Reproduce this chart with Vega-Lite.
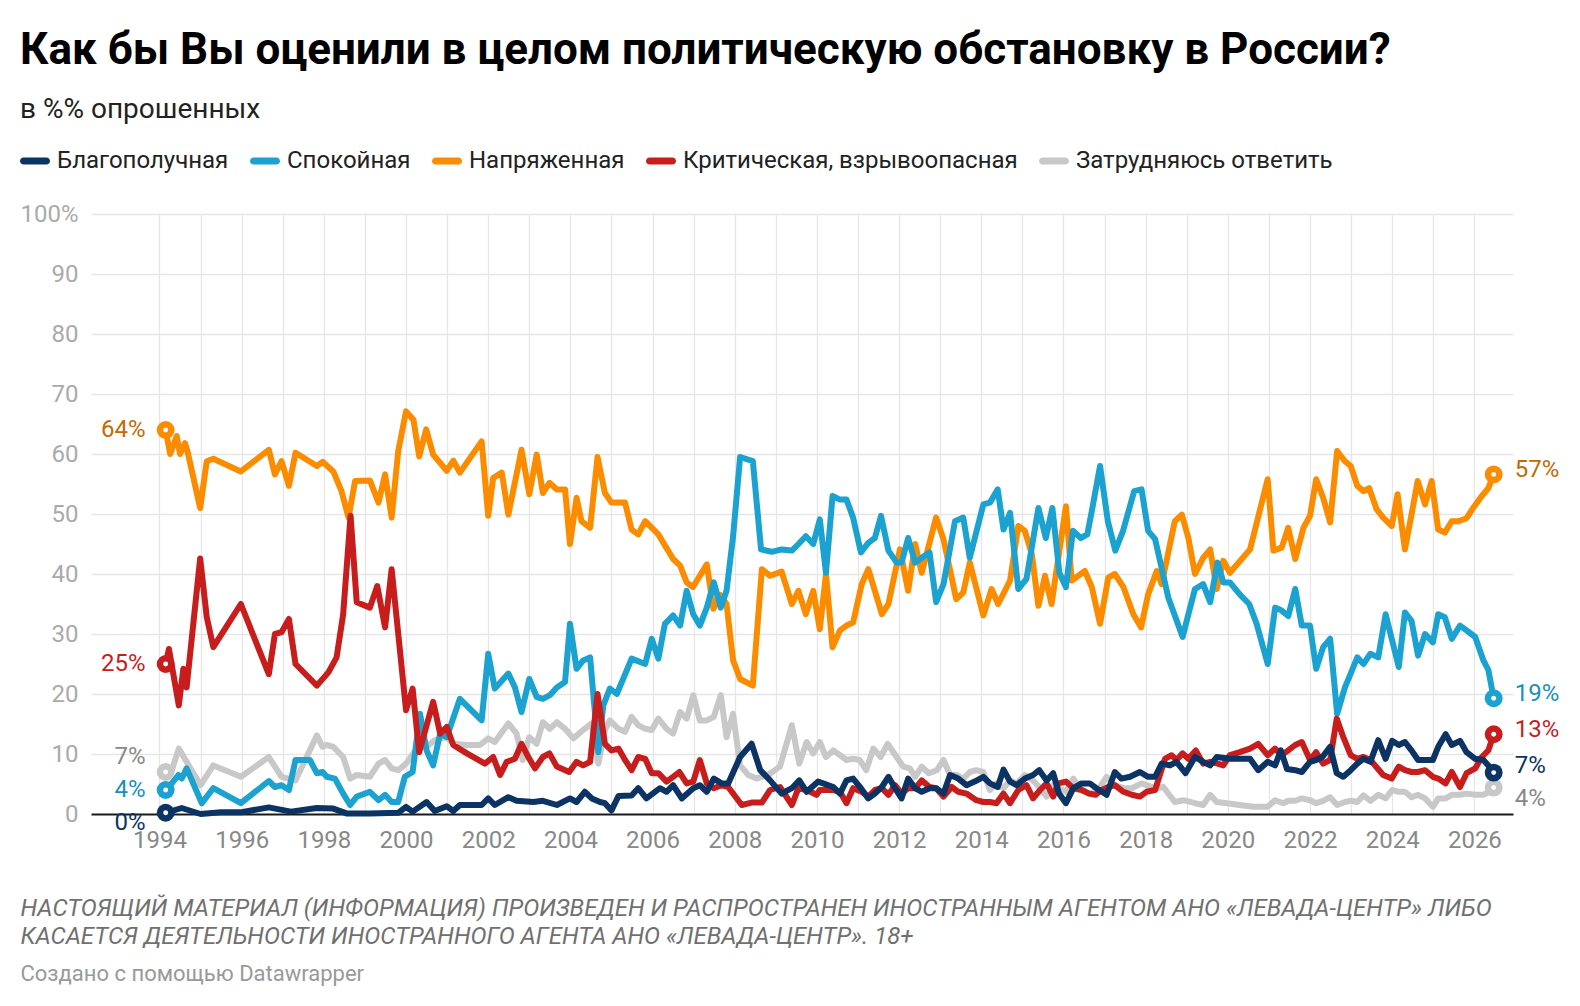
{
  "$schema": "https://vega.github.io/schema/vega-lite/v6.json",
  "width": 1422,
  "height": 600,
  "autosize": "none",
  "padding": {"left": 91, "top": 214, "right": 67, "bottom": 192},
  "background": "white",
  "title": {
    "text": "Как бы Вы оценили в целом политическую обстановку в России?",
    "subtitle": "в %% опрошенных",
    "anchor": "start",
    "frame": "group",
    "dx": -71,
    "offset": 22.5,
    "font": "Roboto",
    "fontSize": 44,
    "fontWeight": "bold",
    "color": "#000000",
    "subtitleFont": "Roboto",
    "subtitleFontSize": 28,
    "subtitleColor": "#222222",
    "subtitlePadding": 23
  },
  "data": {
    "values": [
      {"s":"g","t":1994.15,"v":7},{"s":"g","t":1994.3,"v":7.3},{"s":"g","t":1994.47,"v":10.9},{"s":"g","t":1994.66,"v":8.7},{"s":"g","t":1995.0,"v":4.8},{"s":"g","t":1995.31,"v":8.1},{"s":"g","t":1995.98,"v":6.2},{"s":"g","t":1996.66,"v":9.5},{"s":"g","t":1996.97,"v":6.2},{"s":"g","t":1997.31,"v":5.6},{"s":"g","t":1997.83,"v":13.1},{"s":"g","t":1997.97,"v":11.2},{"s":"g","t":1998.07,"v":11.5},{"s":"g","t":1998.23,"v":11.2},{"s":"g","t":1998.47,"v":9.5},{"s":"g","t":1998.64,"v":5.9},{"s":"g","t":1998.8,"v":6.5},{"s":"g","t":1999.12,"v":6.2},{"s":"g","t":1999.33,"v":8.4},{"s":"g","t":1999.49,"v":9},{"s":"g","t":1999.65,"v":7.6},{"s":"g","t":1999.81,"v":7.3},{"s":"g","t":2000.0,"v":8.4},{"s":"g","t":2000.18,"v":10.1},{"s":"g","t":2000.34,"v":11.7},{"s":"g","t":2000.5,"v":11.2},{"s":"g","t":2000.7,"v":12.3},{"s":"g","t":2000.99,"v":12.8},{"s":"g","t":2001.15,"v":11.7},{"s":"g","t":2001.48,"v":11.5},{"s":"g","t":2001.8,"v":11.5},{"s":"g","t":2002.0,"v":12.6},{"s":"g","t":2002.16,"v":12},{"s":"g","t":2002.49,"v":15.1},{"s":"g","t":2002.69,"v":13.4},{"s":"g","t":2002.84,"v":9},{"s":"g","t":2003.0,"v":12.8},{"s":"g","t":2003.18,"v":11.7},{"s":"g","t":2003.33,"v":15.3},{"s":"g","t":2003.5,"v":14.2},{"s":"g","t":2003.67,"v":15.3},{"s":"g","t":2003.87,"v":14.2},{"s":"g","t":2004.07,"v":12.6},{"s":"g","t":2004.31,"v":14},{"s":"g","t":2004.52,"v":15.1},{"s":"g","t":2004.68,"v":8.4},{"s":"g","t":2004.84,"v":14},{"s":"g","t":2004.96,"v":15.6},{"s":"g","t":2005.17,"v":14.2},{"s":"g","t":2005.33,"v":13.7},{"s":"g","t":2005.49,"v":16.2},{"s":"g","t":2005.65,"v":14.8},{"s":"g","t":2005.82,"v":14.2},{"s":"g","t":2005.98,"v":14},{"s":"g","t":2006.14,"v":15.9},{"s":"g","t":2006.34,"v":14.2},{"s":"g","t":2006.5,"v":13.4},{"s":"g","t":2006.67,"v":17},{"s":"g","t":2006.83,"v":15.9},{"s":"g","t":2006.99,"v":19.8},{"s":"g","t":2007.15,"v":15.6},{"s":"g","t":2007.32,"v":15.6},{"s":"g","t":2007.49,"v":16.2},{"s":"g","t":2007.66,"v":19.8},{"s":"g","t":2007.8,"v":12.8},{"s":"g","t":2007.96,"v":16.7},{"s":"g","t":2008.13,"v":8.1},{"s":"g","t":2008.33,"v":6.5},{"s":"g","t":2008.53,"v":5.9},{"s":"g","t":2008.81,"v":6.5},{"s":"g","t":2009.1,"v":7.9},{"s":"g","t":2009.39,"v":14.8},{"s":"g","t":2009.57,"v":8.4},{"s":"g","t":2009.75,"v":12},{"s":"g","t":2009.91,"v":10.1},{"s":"g","t":2010.07,"v":12},{"s":"g","t":2010.22,"v":9.5},{"s":"g","t":2010.4,"v":10.6},{"s":"g","t":2010.72,"v":9},{"s":"g","t":2010.88,"v":9.2},{"s":"g","t":2011.04,"v":9},{"s":"g","t":2011.2,"v":7.3},{"s":"g","t":2011.37,"v":10.9},{"s":"g","t":2011.55,"v":9.5},{"s":"g","t":2011.72,"v":11.7},{"s":"g","t":2011.94,"v":9.5},{"s":"g","t":2012.1,"v":7.9},{"s":"g","t":2012.26,"v":7.6},{"s":"g","t":2012.39,"v":6.2},{"s":"g","t":2012.55,"v":7.9},{"s":"g","t":2012.72,"v":6.8},{"s":"g","t":2012.92,"v":7.3},{"s":"g","t":2013.08,"v":9},{"s":"g","t":2013.24,"v":6.5},{"s":"g","t":2013.4,"v":6.5},{"s":"g","t":2013.56,"v":5.9},{"s":"g","t":2013.72,"v":7},{"s":"g","t":2013.88,"v":7.3},{"s":"g","t":2014.05,"v":7},{"s":"g","t":2014.21,"v":4},{"s":"g","t":2014.37,"v":5.1},{"s":"g","t":2014.54,"v":4.3},{"s":"g","t":2014.7,"v":5.6},{"s":"g","t":2014.86,"v":5.1},{"s":"g","t":2015.06,"v":6.5},{"s":"g","t":2015.26,"v":5.6},{"s":"g","t":2015.43,"v":4.3},{"s":"g","t":2015.59,"v":2.9},{"s":"g","t":2015.75,"v":4.8},{"s":"g","t":2015.87,"v":4.3},{"s":"g","t":2016.06,"v":3.7},{"s":"g","t":2016.24,"v":5.9},{"s":"g","t":2016.4,"v":4.3},{"s":"g","t":2016.64,"v":3.4},{"s":"g","t":2016.84,"v":4},{"s":"g","t":2017.05,"v":6.2},{"s":"g","t":2017.25,"v":4.8},{"s":"g","t":2017.46,"v":4.3},{"s":"g","t":2017.66,"v":4.3},{"s":"g","t":2017.9,"v":5.1},{"s":"g","t":2018.23,"v":4.3},{"s":"g","t":2018.43,"v":4.5},{"s":"g","t":2018.71,"v":2},{"s":"g","t":2018.92,"v":2.3},{"s":"g","t":2019.2,"v":1.8},{"s":"g","t":2019.4,"v":1.5},{"s":"g","t":2019.57,"v":3.2},{"s":"g","t":2019.73,"v":2},{"s":"g","t":2019.97,"v":1.8},{"s":"g","t":2020.29,"v":1.5},{"s":"g","t":2020.62,"v":1.2},{"s":"g","t":2020.97,"v":1.2},{"s":"g","t":2021.15,"v":2.3},{"s":"g","t":2021.35,"v":1.8},{"s":"g","t":2021.47,"v":2.2},{"s":"g","t":2021.64,"v":2.2},{"s":"g","t":2021.8,"v":2.6},{"s":"g","t":2022.0,"v":2.3},{"s":"g","t":2022.15,"v":1.8},{"s":"g","t":2022.32,"v":2.2},{"s":"g","t":2022.49,"v":2.8},{"s":"g","t":2022.66,"v":1.5},{"s":"g","t":2022.85,"v":2},{"s":"g","t":2023.0,"v":2.2},{"s":"g","t":2023.15,"v":2},{"s":"g","t":2023.3,"v":3.1},{"s":"g","t":2023.47,"v":2.2},{"s":"g","t":2023.66,"v":3.2},{"s":"g","t":2023.84,"v":2.6},{"s":"g","t":2024.0,"v":4},{"s":"g","t":2024.16,"v":3.7},{"s":"g","t":2024.31,"v":3.7},{"s":"g","t":2024.47,"v":2.8},{"s":"g","t":2024.63,"v":3.2},{"s":"g","t":2024.8,"v":2.6},{"s":"g","t":2024.99,"v":1.2},{"s":"g","t":2025.12,"v":2.6},{"s":"g","t":2025.3,"v":2.6},{"s":"g","t":2025.45,"v":3.2},{"s":"g","t":2025.65,"v":3.2},{"s":"g","t":2025.81,"v":3.4},{"s":"g","t":2026.02,"v":3.2},{"s":"g","t":2026.22,"v":3.2},{"s":"g","t":2026.34,"v":3.6},{"s":"g","t":2026.47,"v":4.4},
      {"s":"o","t":1994.15,"v":64},{"s":"o","t":1994.26,"v":60},{"s":"o","t":1994.42,"v":63},{"s":"o","t":1994.5,"v":60},{"s":"o","t":1994.62,"v":61.8},{"s":"o","t":1994.68,"v":60.5},{"s":"o","t":1994.99,"v":51},{"s":"o","t":1995.15,"v":58.8},{"s":"o","t":1995.31,"v":59.2},{"s":"o","t":1995.98,"v":57.1},{"s":"o","t":1996.66,"v":60.7},{"s":"o","t":1996.81,"v":56.6},{"s":"o","t":1996.97,"v":58.8},{"s":"o","t":1997.15,"v":54.7},{"s":"o","t":1997.31,"v":60.2},{"s":"o","t":1997.83,"v":58},{"s":"o","t":1997.97,"v":58.7},{"s":"o","t":1998.23,"v":57.1},{"s":"o","t":1998.43,"v":53.8},{"s":"o","t":1998.6,"v":49.4},{"s":"o","t":1998.76,"v":55.5},{"s":"o","t":1999.12,"v":55.6},{"s":"o","t":1999.33,"v":51.9},{"s":"o","t":1999.49,"v":56.6},{"s":"o","t":1999.65,"v":49.4},{"s":"o","t":1999.81,"v":60.5},{"s":"o","t":2000.0,"v":67.1},{"s":"o","t":2000.18,"v":65.7},{"s":"o","t":2000.32,"v":59.6},{"s":"o","t":2000.49,"v":64.1},{"s":"o","t":2000.66,"v":59.9},{"s":"o","t":2000.99,"v":57.2},{"s":"o","t":2001.15,"v":58.9},{"s":"o","t":2001.31,"v":56.9},{"s":"o","t":2001.84,"v":62.1},{"s":"o","t":2002.0,"v":49.7},{"s":"o","t":2002.12,"v":56},{"s":"o","t":2002.33,"v":56.9},{"s":"o","t":2002.49,"v":49.9},{"s":"o","t":2002.81,"v":60.7},{"s":"o","t":2003.0,"v":53.3},{"s":"o","t":2003.18,"v":59.9},{"s":"o","t":2003.33,"v":53.5},{"s":"o","t":2003.49,"v":55.2},{"s":"o","t":2003.67,"v":54.1},{"s":"o","t":2003.87,"v":54.1},{"s":"o","t":2003.99,"v":45},{"s":"o","t":2004.15,"v":52.7},{"s":"o","t":2004.27,"v":48.8},{"s":"o","t":2004.48,"v":47.7},{"s":"o","t":2004.66,"v":59.5},{"s":"o","t":2004.84,"v":53.5},{"s":"o","t":2005.0,"v":51.9},{"s":"o","t":2005.33,"v":51.9},{"s":"o","t":2005.49,"v":47.4},{"s":"o","t":2005.65,"v":46.6},{"s":"o","t":2005.82,"v":48.8},{"s":"o","t":2006.14,"v":46.6},{"s":"o","t":2006.5,"v":42.5},{"s":"o","t":2006.67,"v":41.4},{"s":"o","t":2006.83,"v":38.6},{"s":"o","t":2006.98,"v":37.8},{"s":"o","t":2007.32,"v":41.6},{"s":"o","t":2007.48,"v":34.2},{"s":"o","t":2007.65,"v":36.5},{"s":"o","t":2007.8,"v":35},{"s":"o","t":2007.96,"v":25.6},{"s":"o","t":2008.13,"v":22.5},{"s":"o","t":2008.44,"v":21.4},{"s":"o","t":2008.66,"v":40.8},{"s":"o","t":2008.86,"v":39.7},{"s":"o","t":2009.14,"v":40.4},{"s":"o","t":2009.39,"v":35},{"s":"o","t":2009.55,"v":37.2},{"s":"o","t":2009.73,"v":33.3},{"s":"o","t":2009.91,"v":37.2},{"s":"o","t":2010.07,"v":30.8},{"s":"o","t":2010.22,"v":40},{"s":"o","t":2010.38,"v":27.8},{"s":"o","t":2010.56,"v":30.6},{"s":"o","t":2010.72,"v":31.4},{"s":"o","t":2010.88,"v":31.9},{"s":"o","t":2011.09,"v":38.3},{"s":"o","t":2011.25,"v":40.8},{"s":"o","t":2011.41,"v":37.2},{"s":"o","t":2011.58,"v":33.3},{"s":"o","t":2011.74,"v":35},{"s":"o","t":2012.02,"v":44.1},{"s":"o","t":2012.22,"v":37.2},{"s":"o","t":2012.39,"v":45},{"s":"o","t":2012.55,"v":40.2},{"s":"o","t":2012.9,"v":49.4},{"s":"o","t":2013.08,"v":45.8},{"s":"o","t":2013.39,"v":35.8},{"s":"o","t":2013.56,"v":36.9},{"s":"o","t":2013.72,"v":41.9},{"s":"o","t":2014.05,"v":33.1},{"s":"o","t":2014.25,"v":37.5},{"s":"o","t":2014.41,"v":35},{"s":"o","t":2014.7,"v":38.9},{"s":"o","t":2014.9,"v":48},{"s":"o","t":2015.06,"v":47.2},{"s":"o","t":2015.23,"v":43.3},{"s":"o","t":2015.39,"v":34.7},{"s":"o","t":2015.55,"v":39.7},{"s":"o","t":2015.71,"v":35},{"s":"o","t":2016.06,"v":51.3},{"s":"o","t":2016.2,"v":38.9},{"s":"o","t":2016.52,"v":40.5},{"s":"o","t":2016.69,"v":37.8},{"s":"o","t":2016.89,"v":31.7},{"s":"o","t":2017.09,"v":39.4},{"s":"o","t":2017.25,"v":40},{"s":"o","t":2017.46,"v":37.8},{"s":"o","t":2017.7,"v":33.3},{"s":"o","t":2017.89,"v":31.1},{"s":"o","t":2018.06,"v":36.6},{"s":"o","t":2018.27,"v":40.5},{"s":"o","t":2018.39,"v":38.3},{"s":"o","t":2018.71,"v":48.8},{"s":"o","t":2018.88,"v":49.9},{"s":"o","t":2019.04,"v":46},{"s":"o","t":2019.2,"v":40},{"s":"o","t":2019.4,"v":42.7},{"s":"o","t":2019.57,"v":44.1},{"s":"o","t":2019.73,"v":37.5},{"s":"o","t":2019.89,"v":42.2},{"s":"o","t":2020.05,"v":40.2},{"s":"o","t":2020.54,"v":44.1},{"s":"o","t":2020.97,"v":55.8},{"s":"o","t":2021.11,"v":43.9},{"s":"o","t":2021.31,"v":44.4},{"s":"o","t":2021.47,"v":47.7},{"s":"o","t":2021.64,"v":42.5},{"s":"o","t":2021.84,"v":47.7},{"s":"o","t":2022.0,"v":49.7},{"s":"o","t":2022.15,"v":55.8},{"s":"o","t":2022.32,"v":52.7},{"s":"o","t":2022.49,"v":48.6},{"s":"o","t":2022.66,"v":60.5},{"s":"o","t":2022.85,"v":58.8},{"s":"o","t":2022.99,"v":58},{"s":"o","t":2023.15,"v":54.7},{"s":"o","t":2023.3,"v":53.8},{"s":"o","t":2023.44,"v":54.3},{"s":"o","t":2023.62,"v":50.8},{"s":"o","t":2023.78,"v":49.4},{"s":"o","t":2023.99,"v":48},{"s":"o","t":2024.13,"v":53.3},{"s":"o","t":2024.31,"v":44.1},{"s":"o","t":2024.47,"v":49.9},{"s":"o","t":2024.62,"v":55.5},{"s":"o","t":2024.8,"v":51.6},{"s":"o","t":2024.96,"v":55.5},{"s":"o","t":2025.12,"v":47.4},{"s":"o","t":2025.28,"v":46.9},{"s":"o","t":2025.45,"v":48.8},{"s":"o","t":2025.61,"v":48.8},{"s":"o","t":2025.81,"v":49.3},{"s":"o","t":2025.97,"v":51},{"s":"o","t":2026.18,"v":53},{"s":"o","t":2026.34,"v":54.3},{"s":"o","t":2026.47,"v":56.6},
      {"s":"b","t":1994.15,"v":4},{"s":"b","t":1994.3,"v":5.1},{"s":"b","t":1994.46,"v":6.5},{"s":"b","t":1994.54,"v":5.9},{"s":"b","t":1994.66,"v":7.6},{"s":"b","t":1995.03,"v":1.8},{"s":"b","t":1995.31,"v":4.3},{"s":"b","t":1995.98,"v":1.8},{"s":"b","t":1996.66,"v":5.5},{"s":"b","t":1996.81,"v":4.5},{"s":"b","t":1996.97,"v":4.8},{"s":"b","t":1997.15,"v":4},{"s":"b","t":1997.31,"v":9},{"s":"b","t":1997.66,"v":9},{"s":"b","t":1997.83,"v":6.8},{"s":"b","t":1997.97,"v":7},{"s":"b","t":1998.07,"v":6.2},{"s":"b","t":1998.27,"v":5.9},{"s":"b","t":1998.47,"v":3.4},{"s":"b","t":1998.64,"v":1.5},{"s":"b","t":1998.8,"v":2.9},{"s":"b","t":1999.12,"v":3.7},{"s":"b","t":1999.33,"v":2.3},{"s":"b","t":1999.49,"v":3.2},{"s":"b","t":1999.65,"v":2},{"s":"b","t":1999.81,"v":2},{"s":"b","t":1999.97,"v":6.2},{"s":"b","t":2000.16,"v":7},{"s":"b","t":2000.34,"v":16.7},{"s":"b","t":2000.5,"v":10.6},{"s":"b","t":2000.66,"v":8.1},{"s":"b","t":2000.83,"v":13.4},{"s":"b","t":2000.99,"v":12.8},{"s":"b","t":2001.31,"v":19.2},{"s":"b","t":2001.84,"v":15.6},{"s":"b","t":2002.0,"v":26.7},{"s":"b","t":2002.16,"v":20.9},{"s":"b","t":2002.49,"v":23.4},{"s":"b","t":2002.65,"v":21.1},{"s":"b","t":2002.81,"v":17},{"s":"b","t":2003.0,"v":22.5},{"s":"b","t":2003.18,"v":19.5},{"s":"b","t":2003.33,"v":19.2},{"s":"b","t":2003.5,"v":19.8},{"s":"b","t":2003.67,"v":21.1},{"s":"b","t":2003.87,"v":22},{"s":"b","t":2003.99,"v":31.7},{"s":"b","t":2004.15,"v":24.2},{"s":"b","t":2004.31,"v":25.6},{"s":"b","t":2004.48,"v":26.1},{"s":"b","t":2004.68,"v":10.3},{"s":"b","t":2004.8,"v":18.1},{"s":"b","t":2004.96,"v":20.9},{"s":"b","t":2005.13,"v":20},{"s":"b","t":2005.49,"v":25.9},{"s":"b","t":2005.82,"v":25},{"s":"b","t":2005.98,"v":29.2},{"s":"b","t":2006.14,"v":25.9},{"s":"b","t":2006.3,"v":31.7},{"s":"b","t":2006.5,"v":33.1},{"s":"b","t":2006.67,"v":31.4},{"s":"b","t":2006.83,"v":37.2},{"s":"b","t":2006.99,"v":33.3},{"s":"b","t":2007.15,"v":31.4},{"s":"b","t":2007.32,"v":34.4},{"s":"b","t":2007.49,"v":38.6},{"s":"b","t":2007.66,"v":34.4},{"s":"b","t":2007.8,"v":37.2},{"s":"b","t":2007.96,"v":46.3},{"s":"b","t":2008.13,"v":59.5},{"s":"b","t":2008.44,"v":58.8},{"s":"b","t":2008.64,"v":44.1},{"s":"b","t":2008.9,"v":43.7},{"s":"b","t":2009.14,"v":44.1},{"s":"b","t":2009.39,"v":43.9},{"s":"b","t":2009.55,"v":45},{"s":"b","t":2009.73,"v":46.3},{"s":"b","t":2009.91,"v":45},{"s":"b","t":2010.07,"v":49.1},{"s":"b","t":2010.22,"v":40.2},{"s":"b","t":2010.38,"v":53},{"s":"b","t":2010.56,"v":52.4},{"s":"b","t":2010.72,"v":52.4},{"s":"b","t":2010.88,"v":49.4},{"s":"b","t":2011.07,"v":43.6},{"s":"b","t":2011.25,"v":45.2},{"s":"b","t":2011.41,"v":46},{"s":"b","t":2011.56,"v":49.7},{"s":"b","t":2011.74,"v":43.9},{"s":"b","t":2011.94,"v":41.9},{"s":"b","t":2012.06,"v":41.9},{"s":"b","t":2012.22,"v":46},{"s":"b","t":2012.39,"v":41.9},{"s":"b","t":2012.55,"v":42.7},{"s":"b","t":2012.74,"v":43.6},{"s":"b","t":2012.9,"v":35.3},{"s":"b","t":2013.08,"v":38.3},{"s":"b","t":2013.36,"v":48.8},{"s":"b","t":2013.56,"v":49.4},{"s":"b","t":2013.72,"v":42.7},{"s":"b","t":2014.05,"v":51.6},{"s":"b","t":2014.21,"v":51.9},{"s":"b","t":2014.4,"v":54.1},{"s":"b","t":2014.54,"v":47.4},{"s":"b","t":2014.7,"v":50.2},{"s":"b","t":2014.9,"v":37.5},{"s":"b","t":2015.1,"v":39.2},{"s":"b","t":2015.39,"v":51},{"s":"b","t":2015.57,"v":46},{"s":"b","t":2015.73,"v":51},{"s":"b","t":2015.9,"v":40.2},{"s":"b","t":2016.06,"v":37.8},{"s":"b","t":2016.23,"v":47.2},{"s":"b","t":2016.42,"v":46},{"s":"b","t":2016.58,"v":46.6},{"s":"b","t":2016.69,"v":50.5},{"s":"b","t":2016.89,"v":58},{"s":"b","t":2017.08,"v":48.8},{"s":"b","t":2017.26,"v":43.9},{"s":"b","t":2017.45,"v":47.2},{"s":"b","t":2017.72,"v":53.8},{"s":"b","t":2017.9,"v":54.1},{"s":"b","t":2018.06,"v":47.2},{"s":"b","t":2018.23,"v":45.8},{"s":"b","t":2018.55,"v":36.1},{"s":"b","t":2018.9,"v":29.5},{"s":"b","t":2019.04,"v":33.3},{"s":"b","t":2019.2,"v":37.5},{"s":"b","t":2019.4,"v":38.3},{"s":"b","t":2019.57,"v":35.3},{"s":"b","t":2019.75,"v":41.9},{"s":"b","t":2019.89,"v":38.6},{"s":"b","t":2020.05,"v":38.6},{"s":"b","t":2020.29,"v":36.6},{"s":"b","t":2020.52,"v":35},{"s":"b","t":2020.7,"v":31.7},{"s":"b","t":2020.97,"v":25},{"s":"b","t":2021.15,"v":34.4},{"s":"b","t":2021.31,"v":33.9},{"s":"b","t":2021.47,"v":33},{"s":"b","t":2021.64,"v":37.5},{"s":"b","t":2021.8,"v":31.4},{"s":"b","t":2022.0,"v":31.4},{"s":"b","t":2022.15,"v":24.2},{"s":"b","t":2022.32,"v":27.8},{"s":"b","t":2022.49,"v":29.2},{"s":"b","t":2022.66,"v":16.7},{"s":"b","t":2022.85,"v":21.1},{"s":"b","t":2022.99,"v":23.4},{"s":"b","t":2023.15,"v":26.1},{"s":"b","t":2023.3,"v":25},{"s":"b","t":2023.47,"v":26.7},{"s":"b","t":2023.66,"v":26.1},{"s":"b","t":2023.84,"v":33.3},{"s":"b","t":2024.0,"v":28.9},{"s":"b","t":2024.16,"v":24.5},{"s":"b","t":2024.31,"v":33.6},{"s":"b","t":2024.47,"v":32.2},{"s":"b","t":2024.63,"v":26.4},{"s":"b","t":2024.8,"v":30},{"s":"b","t":2024.99,"v":28.6},{"s":"b","t":2025.12,"v":33.3},{"s":"b","t":2025.28,"v":32.8},{"s":"b","t":2025.45,"v":29.2},{"s":"b","t":2025.65,"v":31.4},{"s":"b","t":2025.81,"v":30.6},{"s":"b","t":2026.02,"v":29.5},{"s":"b","t":2026.22,"v":25.6},{"s":"b","t":2026.34,"v":24},{"s":"b","t":2026.47,"v":19.3},
      {"s":"r","t":1994.15,"v":25},{"s":"r","t":1994.23,"v":27.5},{"s":"r","t":1994.47,"v":18.1},{"s":"r","t":1994.58,"v":24.2},{"s":"r","t":1994.66,"v":21.1},{"s":"r","t":1994.99,"v":42.6},{"s":"r","t":1995.15,"v":32.8},{"s":"r","t":1995.31,"v":27.8},{"s":"r","t":1995.98,"v":35},{"s":"r","t":1996.66,"v":23.3},{"s":"r","t":1996.81,"v":30},{"s":"r","t":1996.97,"v":30.3},{"s":"r","t":1997.15,"v":32.5},{"s":"r","t":1997.31,"v":25},{"s":"r","t":1997.83,"v":21.4},{"s":"r","t":1998.11,"v":23.6},{"s":"r","t":1998.31,"v":26.1},{"s":"r","t":1998.47,"v":33.3},{"s":"r","t":1998.65,"v":49.7},{"s":"r","t":1998.8,"v":35.3},{"s":"r","t":1999.12,"v":34.4},{"s":"r","t":1999.3,"v":38},{"s":"r","t":1999.49,"v":31.1},{"s":"r","t":1999.65,"v":40.8},{"s":"r","t":2000.0,"v":17.3},{"s":"r","t":2000.16,"v":20.9},{"s":"r","t":2000.32,"v":10.3},{"s":"r","t":2000.66,"v":18.7},{"s":"r","t":2000.83,"v":13.4},{"s":"r","t":2000.99,"v":14.5},{"s":"r","t":2001.15,"v":11.5},{"s":"r","t":2001.48,"v":10.1},{"s":"r","t":2001.92,"v":8.4},{"s":"r","t":2002.12,"v":9.5},{"s":"r","t":2002.29,"v":6.5},{"s":"r","t":2002.45,"v":8.7},{"s":"r","t":2002.65,"v":9.2},{"s":"r","t":2002.81,"v":11.7},{"s":"r","t":2003.0,"v":9.2},{"s":"r","t":2003.14,"v":7.6},{"s":"r","t":2003.33,"v":9.5},{"s":"r","t":2003.49,"v":10.1},{"s":"r","t":2003.67,"v":7.9},{"s":"r","t":2003.97,"v":7},{"s":"r","t":2004.15,"v":8.7},{"s":"r","t":2004.31,"v":8.1},{"s":"r","t":2004.48,"v":8.7},{"s":"r","t":2004.66,"v":20},{"s":"r","t":2004.84,"v":11.7},{"s":"r","t":2005.0,"v":10.6},{"s":"r","t":2005.17,"v":10.9},{"s":"r","t":2005.33,"v":9},{"s":"r","t":2005.49,"v":7.3},{"s":"r","t":2005.65,"v":9.5},{"s":"r","t":2005.82,"v":9.2},{"s":"r","t":2005.98,"v":6.8},{"s":"r","t":2006.14,"v":6.8},{"s":"r","t":2006.34,"v":5.4},{"s":"r","t":2006.5,"v":6.2},{"s":"r","t":2006.65,"v":7},{"s":"r","t":2006.83,"v":5.1},{"s":"r","t":2006.99,"v":5.4},{"s":"r","t":2007.15,"v":9},{"s":"r","t":2007.32,"v":5.1},{"s":"r","t":2007.49,"v":4.3},{"s":"r","t":2007.68,"v":4.8},{"s":"r","t":2007.84,"v":4.5},{"s":"r","t":2008.17,"v":1.5},{"s":"r","t":2008.41,"v":1.9},{"s":"r","t":2008.66,"v":1.9},{"s":"r","t":2008.86,"v":4},{"s":"r","t":2009.1,"v":4.5},{"s":"r","t":2009.39,"v":1.5},{"s":"r","t":2009.55,"v":4.3},{"s":"r","t":2009.75,"v":4},{"s":"r","t":2009.99,"v":3.2},{"s":"r","t":2010.07,"v":4},{"s":"r","t":2010.4,"v":4},{"s":"r","t":2010.56,"v":3.7},{"s":"r","t":2010.72,"v":1.8},{"s":"r","t":2010.88,"v":4.3},{"s":"r","t":2011.09,"v":3.7},{"s":"r","t":2011.25,"v":2.9},{"s":"r","t":2011.41,"v":4},{"s":"r","t":2011.58,"v":4.3},{"s":"r","t":2011.74,"v":3.2},{"s":"r","t":2011.9,"v":4.8},{"s":"r","t":2012.06,"v":3.4},{"s":"r","t":2012.22,"v":4.3},{"s":"r","t":2012.39,"v":4.3},{"s":"r","t":2012.55,"v":5.6},{"s":"r","t":2012.74,"v":4.5},{"s":"r","t":2012.9,"v":4.3},{"s":"r","t":2013.08,"v":2.9},{"s":"r","t":2013.28,"v":4.5},{"s":"r","t":2013.44,"v":3.7},{"s":"r","t":2013.64,"v":3.4},{"s":"r","t":2013.88,"v":2.3},{"s":"r","t":2014.05,"v":2},{"s":"r","t":2014.21,"v":2},{"s":"r","t":2014.37,"v":1.8},{"s":"r","t":2014.54,"v":3.4},{"s":"r","t":2014.7,"v":1.8},{"s":"r","t":2014.9,"v":4},{"s":"r","t":2015.1,"v":4.8},{"s":"r","t":2015.26,"v":2.6},{"s":"r","t":2015.43,"v":4},{"s":"r","t":2015.59,"v":5.1},{"s":"r","t":2015.75,"v":2.9},{"s":"r","t":2015.87,"v":5.1},{"s":"r","t":2016.06,"v":5.4},{"s":"r","t":2016.24,"v":4.3},{"s":"r","t":2016.44,"v":4},{"s":"r","t":2016.62,"v":3.4},{"s":"r","t":2016.78,"v":3.2},{"s":"r","t":2016.93,"v":4},{"s":"r","t":2017.09,"v":4.5},{"s":"r","t":2017.25,"v":4.8},{"s":"r","t":2017.46,"v":3.7},{"s":"r","t":2017.66,"v":3.2},{"s":"r","t":2017.86,"v":2.9},{"s":"r","t":2018.02,"v":3.7},{"s":"r","t":2018.23,"v":4},{"s":"r","t":2018.47,"v":9.2},{"s":"r","t":2018.63,"v":9.8},{"s":"r","t":2018.75,"v":9},{"s":"r","t":2018.9,"v":10.1},{"s":"r","t":2019.04,"v":9.2},{"s":"r","t":2019.22,"v":10.6},{"s":"r","t":2019.4,"v":8.4},{"s":"r","t":2019.57,"v":8.7},{"s":"r","t":2019.75,"v":8.4},{"s":"r","t":2019.89,"v":8.1},{"s":"r","t":2020.05,"v":9.8},{"s":"r","t":2020.29,"v":10.3},{"s":"r","t":2020.54,"v":10.9},{"s":"r","t":2020.74,"v":11.7},{"s":"r","t":2020.97,"v":9.8},{"s":"r","t":2021.15,"v":10.9},{"s":"r","t":2021.31,"v":9.8},{"s":"r","t":2021.47,"v":10.6},{"s":"r","t":2021.64,"v":11.5},{"s":"r","t":2021.8,"v":12},{"s":"r","t":2022.0,"v":9},{"s":"r","t":2022.15,"v":10.3},{"s":"r","t":2022.32,"v":8.4},{"s":"r","t":2022.49,"v":9},{"s":"r","t":2022.65,"v":15.9},{"s":"r","t":2022.81,"v":12.8},{"s":"r","t":2022.99,"v":9.8},{"s":"r","t":2023.15,"v":9.2},{"s":"r","t":2023.3,"v":9.5},{"s":"r","t":2023.47,"v":9},{"s":"r","t":2023.78,"v":6.5},{"s":"r","t":2023.99,"v":5.9},{"s":"r","t":2024.16,"v":7.9},{"s":"r","t":2024.31,"v":7.3},{"s":"r","t":2024.47,"v":7},{"s":"r","t":2024.63,"v":7},{"s":"r","t":2024.8,"v":7.3},{"s":"r","t":2024.99,"v":6.2},{"s":"r","t":2025.12,"v":5.9},{"s":"r","t":2025.3,"v":5.1},{"s":"r","t":2025.45,"v":7},{"s":"r","t":2025.65,"v":4.5},{"s":"r","t":2025.81,"v":6.8},{"s":"r","t":2026.02,"v":7.6},{"s":"r","t":2026.18,"v":9.5},{"s":"r","t":2026.34,"v":10.6},{"s":"r","t":2026.47,"v":13.3},
      {"s":"n","t":1994.15,"v":0.2},{"s":"n","t":1994.54,"v":1},{"s":"n","t":1995.0,"v":0},{"s":"n","t":1995.5,"v":0.3},{"s":"n","t":1996.0,"v":0.3},{"s":"n","t":1996.66,"v":1.1},{"s":"n","t":1997.2,"v":0.4},{"s":"n","t":1997.83,"v":1},{"s":"n","t":1998.23,"v":0.9},{"s":"n","t":1998.55,"v":0.1},{"s":"n","t":1999.12,"v":0.1},{"s":"n","t":1999.81,"v":0.2},{"s":"n","t":2000.0,"v":1.2},{"s":"n","t":2000.16,"v":0.4},{"s":"n","t":2000.5,"v":2},{"s":"n","t":2000.7,"v":0.5},{"s":"n","t":2000.99,"v":1.3},{"s":"n","t":2001.15,"v":0.5},{"s":"n","t":2001.31,"v":1.5},{"s":"n","t":2001.84,"v":1.5},{"s":"n","t":2002.0,"v":2.6},{"s":"n","t":2002.16,"v":1.5},{"s":"n","t":2002.49,"v":2.8},{"s":"n","t":2002.69,"v":2.2},{"s":"n","t":2003.1,"v":2},{"s":"n","t":2003.33,"v":2.2},{"s":"n","t":2003.67,"v":1.5},{"s":"n","t":2003.99,"v":2.6},{"s":"n","t":2004.15,"v":2},{"s":"n","t":2004.35,"v":3.7},{"s":"n","t":2004.52,"v":2.6},{"s":"n","t":2004.72,"v":2},{"s":"n","t":2004.84,"v":1.8},{"s":"n","t":2005.0,"v":0.6},{"s":"n","t":2005.17,"v":3},{"s":"n","t":2005.49,"v":3.1},{"s":"n","t":2005.65,"v":4.3},{"s":"n","t":2005.85,"v":2.6},{"s":"n","t":2006.18,"v":4.3},{"s":"n","t":2006.34,"v":3.7},{"s":"n","t":2006.5,"v":4.8},{"s":"n","t":2006.71,"v":2.6},{"s":"n","t":2006.99,"v":4.3},{"s":"n","t":2007.15,"v":4.8},{"s":"n","t":2007.32,"v":3.7},{"s":"n","t":2007.49,"v":5.9},{"s":"n","t":2007.68,"v":5.1},{"s":"n","t":2007.84,"v":5.1},{"s":"n","t":2008.13,"v":9.5},{"s":"n","t":2008.41,"v":11.7},{"s":"n","t":2008.62,"v":7.3},{"s":"n","t":2008.86,"v":5.6},{"s":"n","t":2009.14,"v":3.4},{"s":"n","t":2009.39,"v":4.3},{"s":"n","t":2009.57,"v":5.6},{"s":"n","t":2009.75,"v":3.7},{"s":"n","t":2010.03,"v":5.4},{"s":"n","t":2010.4,"v":4.5},{"s":"n","t":2010.56,"v":3.4},{"s":"n","t":2010.72,"v":5.6},{"s":"n","t":2010.88,"v":5.9},{"s":"n","t":2011.07,"v":4.3},{"s":"n","t":2011.25,"v":2.6},{"s":"n","t":2011.41,"v":3.4},{"s":"n","t":2011.58,"v":4.5},{"s":"n","t":2011.74,"v":6.2},{"s":"n","t":2011.9,"v":4.3},{"s":"n","t":2012.06,"v":2.6},{"s":"n","t":2012.22,"v":5.9},{"s":"n","t":2012.39,"v":4.3},{"s":"n","t":2012.55,"v":3.7},{"s":"n","t":2012.74,"v":4.3},{"s":"n","t":2012.9,"v":4.3},{"s":"n","t":2013.08,"v":3.4},{"s":"n","t":2013.24,"v":6.5},{"s":"n","t":2013.44,"v":5.9},{"s":"n","t":2013.64,"v":4.8},{"s":"n","t":2013.84,"v":5.4},{"s":"n","t":2014.05,"v":6.2},{"s":"n","t":2014.21,"v":5.1},{"s":"n","t":2014.4,"v":4.5},{"s":"n","t":2014.54,"v":7.4},{"s":"n","t":2014.7,"v":5.4},{"s":"n","t":2014.86,"v":4.8},{"s":"n","t":2015.06,"v":5.9},{"s":"n","t":2015.26,"v":6.5},{"s":"n","t":2015.41,"v":7.3},{"s":"n","t":2015.59,"v":5.6},{"s":"n","t":2015.75,"v":6.8},{"s":"n","t":2015.89,"v":3.4},{"s":"n","t":2016.06,"v":1.8},{"s":"n","t":2016.24,"v":4.3},{"s":"n","t":2016.44,"v":5.1},{"s":"n","t":2016.64,"v":5.1},{"s":"n","t":2016.8,"v":4.3},{"s":"n","t":2017.05,"v":3.2},{"s":"n","t":2017.25,"v":7},{"s":"n","t":2017.41,"v":5.9},{"s":"n","t":2017.62,"v":6.2},{"s":"n","t":2017.86,"v":7},{"s":"n","t":2018.06,"v":6.2},{"s":"n","t":2018.23,"v":6.2},{"s":"n","t":2018.39,"v":8.4},{"s":"n","t":2018.59,"v":8.1},{"s":"n","t":2018.75,"v":8.7},{"s":"n","t":2018.97,"v":6.8},{"s":"n","t":2019.2,"v":9.5},{"s":"n","t":2019.4,"v":8.7},{"s":"n","t":2019.57,"v":8.1},{"s":"n","t":2019.73,"v":9.5},{"s":"n","t":2020.05,"v":9.2},{"s":"n","t":2020.54,"v":9.2},{"s":"n","t":2020.74,"v":7.3},{"s":"n","t":2020.97,"v":8.7},{"s":"n","t":2021.15,"v":8.1},{"s":"n","t":2021.29,"v":10.6},{"s":"n","t":2021.44,"v":7.5},{"s":"n","t":2021.64,"v":7.3},{"s":"n","t":2021.8,"v":7},{"s":"n","t":2022.0,"v":8.7},{"s":"n","t":2022.15,"v":9},{"s":"n","t":2022.3,"v":9.5},{"s":"n","t":2022.49,"v":11.2},{"s":"n","t":2022.65,"v":6.8},{"s":"n","t":2022.81,"v":6.2},{"s":"n","t":2022.99,"v":7.3},{"s":"n","t":2023.15,"v":8.4},{"s":"n","t":2023.3,"v":9.2},{"s":"n","t":2023.47,"v":8.7},{"s":"n","t":2023.66,"v":12.3},{"s":"n","t":2023.84,"v":9.2},{"s":"n","t":2024.0,"v":12.2},{"s":"n","t":2024.16,"v":11.5},{"s":"n","t":2024.31,"v":12},{"s":"n","t":2024.47,"v":10.6},{"s":"n","t":2024.63,"v":9},{"s":"n","t":2024.8,"v":9},{"s":"n","t":2024.99,"v":9},{"s":"n","t":2025.12,"v":11.2},{"s":"n","t":2025.3,"v":13.3},{"s":"n","t":2025.45,"v":11.5},{"s":"n","t":2025.65,"v":12.2},{"s":"n","t":2025.81,"v":10.3},{"s":"n","t":2026.02,"v":9.2},{"s":"n","t":2026.22,"v":9},{"s":"n","t":2026.34,"v":8.1},{"s":"n","t":2026.47,"v":6.9}
    ]
  },
  "transform": [
    {
      "lookup": "s",
      "from": {
        "data": {
          "values": [
            {"s": "n", "name": "Благополучная"},
            {"s": "b", "name": "Спокойная"},
            {"s": "o", "name": "Напряженная"},
            {"s": "r", "name": "Критическая, взрывоопасная"},
            {"s": "g", "name": "Затрудняюсь ответить"}
          ]
        },
        "key": "s",
        "fields": ["name"]
      }
    }
  ],
  "encoding": {
    "x": {
      "field": "t",
      "type": "quantitative",
      "scale": {"domain": [1992.333, 2026.94], "nice": false, "zero": false},
      "axis": {
        "values": [1994,1995,1996,1997,1998,1999,2000,2001,2002,2003,2004,2005,2006,2007,2008,2009,2010,2011,2012,2013,2014,2015,2016,2017,2018,2019,2020,2021,2022,2023,2024,2025,2026],
        "format": "d",
        "labelExpr": "datum.value % 2 ? '' : datum.label",
        "labelOverlap": false,
        "labelFlush": false,
        "labelFont": "Roboto",
        "labelFontSize": 24,
        "labelColor": "#888888",
        "labelPadding": 14,
        "domain": false,
        "ticks": false,
        "grid": true,
        "gridColor": "#e6e6e6",
        "gridWidth": 1.3,
        "title": ["НАСТОЯЩИЙ МАТЕРИАЛ (ИНФОРМАЦИЯ) ПРОИЗВЕДЕН И РАСПРОСТРАНЕН ИНОСТРАННЫМ АГЕНТОМ АНО «ЛЕВАДА-ЦЕНТР» ЛИБО", "КАСАЕТСЯ ДЕЯТЕЛЬНОСТИ ИНОСТРАННОГО АГЕНТА АНО «ЛЕВАДА-ЦЕНТР». 18+"],
        "titleFont": "Roboto",
        "titleFontSize": 24,
        "titleFontStyle": "italic",
        "titleFontWeight": "normal",
        "titleColor": "#707070",
        "titleLineHeight": 28,
        "titleAlign": "left",
        "titleAnchor": "start",
        "titleBaseline": "alphabetic",
        "titleX": -71,
        "titleY": 101
      }
    },
    "y": {
      "field": "v",
      "type": "quantitative",
      "scale": {"domain": [0, 100], "nice": false},
      "axis": {
        "values": [0,10,20,30,40,50,60,70,80,90,100],
        "labelExpr": "datum.value === 100 ? '100%' : datum.label",
        "labelFont": "Roboto",
        "labelFontSize": 24,
        "labelColor": "#aaaaaa",
        "labelPadding": 13,
        "domain": false,
        "ticks": false,
        "grid": true,
        "gridColor": {"condition": {"test": "datum.value === 0", "value": "#1a1a1a"}, "value": "#e6e6e6"},
        "gridWidth": {"condition": {"test": "datum.value === 0", "value": 2.2}, "value": 1.3},
        "title": "Создано с помощью Datawrapper",
        "titleFont": "Roboto",
        "titleFontSize": 22,
        "titleFontWeight": "normal",
        "titleColor": "#999999",
        "titleAngle": 0,
        "titleAlign": "left",
        "titleBaseline": "middle",
        "titleX": -71,
        "titleY": 759
      }
    }
  },
  "layer": [
    {
      "mark": {"type": "line", "strokeWidth": 6, "strokeJoin": "round", "strokeCap": "round"},
      "encoding": {
        "color": {
          "field": "name",
          "type": "nominal",
          "scale": {
            "domain": ["Благополучная", "Спокойная", "Напряженная", "Критическая, взрывоопасная", "Затрудняюсь ответить"],
            "range": ["#0b3364", "#1ba2d1", "#fb8c00", "#c71e1d", "#c8c8c8"]
          },
          "legend": {
            "orient": "none",
            "legendX": -71,
            "legendY": -68,
            "direction": "horizontal",
            "columns": 5,
            "title": null,
            "symbolType": "M-0.76,-0.24L0.76,-0.24A0.24,0.24 0 0 1 0.76,0.24L-0.76,0.24A0.24,0.24 0 0 1 -0.76,-0.24Z",
            "symbolSize": 900,
            "symbolStrokeWidth": 0,
            "labelFont": "Roboto",
            "labelFontSize": 24,
            "labelColor": "#222222",
            "labelLimit": 500,
            "labelOffset": 7,
            "columnPadding": 21,
            "encode": {
              "symbols": {
                "update": {
                  "fill": {"scale": "color", "field": "value"},
                  "stroke": {"value": "transparent"},
                  "opacity": {"value": 1}
                }
              }
            }
          }
        }
      }
    },
    {
      "transform": [
        {"joinaggregate": [{"op": "min", "field": "t", "as": "t0"}, {"op": "max", "field": "t", "as": "t1"}], "groupby": ["s"]},
        {"filter": "datum.t === datum.t0 || datum.t === datum.t1"}
      ],
      "mark": {"type": "point", "filled": true, "size": 320, "opacity": 1},
      "encoding": {"color": {"field": "name", "type": "nominal"}}
    },
    {
      "transform": [
        {"joinaggregate": [{"op": "min", "field": "t", "as": "t0"}, {"op": "max", "field": "t", "as": "t1"}], "groupby": ["s"]},
        {"filter": "datum.t === datum.t0 || datum.t === datum.t1"}
      ],
      "mark": {"type": "point", "filled": true, "size": 24, "color": "white", "opacity": 1}
    },
    {
      "transform": [
        {"joinaggregate": [{"op": "min", "field": "t", "as": "t0"}], "groupby": ["s"]},
        {"filter": "datum.t === datum.t0 && (datum.s === 'o' || datum.s === 'r' || datum.s === 'b')"},
        {"calculate": "round(datum.v) + '%'", "as": "lbl"}
      ],
      "mark": {"type": "text", "align": "right", "baseline": "middle", "dx": -20, "font": "Roboto", "fontSize": 24},
      "encoding": {
        "text": {"field": "lbl"},
        "color": {"condition": [{"test": "datum.s === 'o'", "value": "#c46a00"}, {"test": "datum.s === 'r'", "value": "#c71e1d"}, {"test": "datum.s === 'b'", "value": "#1890bd"}], "value": "#888888"}
      }
    },
    {
      "transform": [
        {"joinaggregate": [{"op": "min", "field": "t", "as": "t0"}], "groupby": ["s"]},
        {"filter": "datum.t === datum.t0 && datum.s === 'g'"},
        {"calculate": "round(datum.v) + '%'", "as": "lbl"}
      ],
      "mark": {"type": "text", "align": "right", "baseline": "middle", "dx": -20, "dy": -15, "font": "Roboto", "fontSize": 24, "color": "#888888"},
      "encoding": {"text": {"field": "lbl"}}
    },
    {
      "transform": [
        {"joinaggregate": [{"op": "min", "field": "t", "as": "t0"}], "groupby": ["s"]},
        {"filter": "datum.t === datum.t0 && datum.s === 'n'"},
        {"calculate": "round(datum.v) + '%'", "as": "lbl"}
      ],
      "mark": {"type": "text", "align": "right", "baseline": "middle", "dx": -20, "dy": 10, "font": "Roboto", "fontSize": 24, "color": "#0b3364"},
      "encoding": {"text": {"field": "lbl"}}
    },
    {
      "transform": [
        {"joinaggregate": [{"op": "max", "field": "t", "as": "t1"}], "groupby": ["s"]},
        {"filter": "datum.t === datum.t1 && (datum.s === 'o' || datum.s === 'r' || datum.s === 'b')"},
        {"calculate": "round(datum.v) + '%'", "as": "lbl"}
      ],
      "mark": {"type": "text", "align": "left", "baseline": "middle", "dx": 21, "dy": -4, "font": "Roboto", "fontSize": 24},
      "encoding": {
        "text": {"field": "lbl"},
        "color": {"condition": [{"test": "datum.s === 'o'", "value": "#c46a00"}, {"test": "datum.s === 'r'", "value": "#c71e1d"}, {"test": "datum.s === 'b'", "value": "#1890bd"}], "value": "#888888"}
      }
    },
    {
      "transform": [
        {"joinaggregate": [{"op": "max", "field": "t", "as": "t1"}], "groupby": ["s"]},
        {"filter": "datum.t === datum.t1 && datum.s === 'n'"},
        {"calculate": "round(datum.v) + '%'", "as": "lbl"}
      ],
      "mark": {"type": "text", "align": "left", "baseline": "middle", "dx": 21, "dy": -7, "font": "Roboto", "fontSize": 24, "color": "#0b3364"},
      "encoding": {"text": {"field": "lbl"}}
    },
    {
      "transform": [
        {"joinaggregate": [{"op": "max", "field": "t", "as": "t1"}], "groupby": ["s"]},
        {"filter": "datum.t === datum.t1 && datum.s === 'g'"},
        {"calculate": "round(datum.v) + '%'", "as": "lbl"}
      ],
      "mark": {"type": "text", "align": "left", "baseline": "middle", "dx": 21, "dy": 11, "font": "Roboto", "fontSize": 24, "color": "#888888"},
      "encoding": {"text": {"field": "lbl"}}
    }
  ],
  "config": {
    "view": {"stroke": null},
    "font": "Roboto"
  }
}
